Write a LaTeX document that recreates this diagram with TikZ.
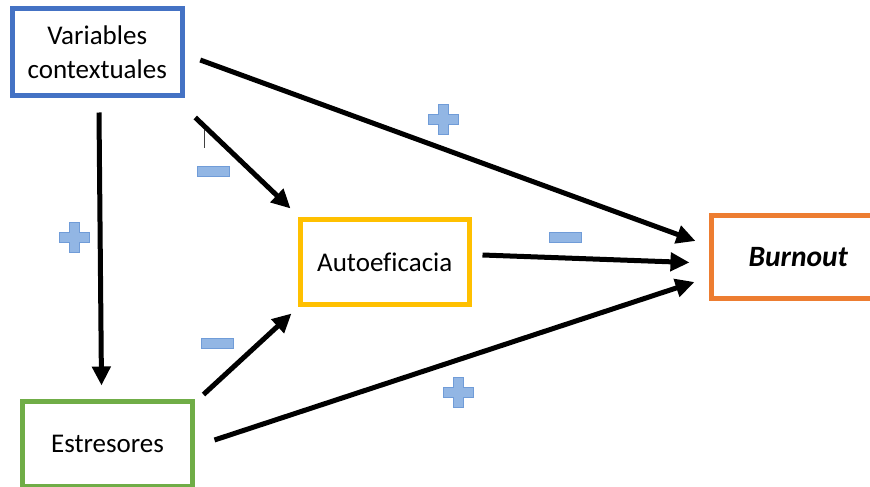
\documentclass[tikz,border=0pt]{standalone}
\usepackage{fontspec}
\setmainfont{Carlito}[Ligatures=NoCommon]
\usetikzlibrary{arrows.meta}

\definecolor{boxblue}{RGB}{68,114,196}
\definecolor{boxyellow}{RGB}{255,192,0}
\definecolor{boxorange}{RGB}{237,125,49}
\definecolor{boxgreen}{RGB}{112,173,71}
\definecolor{signfill}{RGB}{146,182,228}
\definecolor{signline}{RGB}{112,156,216}

\tikzset{
  varbox/.style={draw, line width=5pt, fill=white, minimum width=170pt,
    align=center, inner sep=0pt, font=\fontsize{27}{34}\selectfont},
  link/.style={line width=5pt, -{Triangle[length=19pt,width=18pt]}},
  signshape/.style={fill=signfill, draw=signline, line width=0.8pt},
  plussign/.pic={
    \path[signshape] (-5,-15) -- (5,-15) -- (5,-5) -- (15,-5) -- (15,5) -- (5,5)
      -- (5,15) -- (-5,15) -- (-5,5) -- (-15,5) -- (-15,-5) -- (-5,-5) -- cycle;
  },
  minussign/.pic={
    \path[signshape] (-16,-5) rectangle (16,5);
  }
}

\begin{document}
\begin{tikzpicture}[x=1pt, y=-1pt]
  \useasboundingbox (0,0) rectangle (870,487);
  \clip (0,0) rectangle (870,487);

  % boxes
  \node[varbox, draw=boxblue, minimum height=86pt] (vars) at (97.25,52)
    {Variables\\contextuales};
  \node[varbox, draw=boxyellow, minimum width=169.5pt, minimum height=85pt] (auto)
    at (384.75,262) {Autoeficacia};
  \node[varbox, draw=boxorange, minimum width=173.5pt, minimum height=82.5pt,
    font=\fontsize{29.5}{34}\selectfont\bfseries\itshape] (burn) at (798.25,256.75) {Burnout};
  \node[varbox, draw=boxgreen, minimum height=85pt] (estres) at (107.5,444)
    {Estresores};

  % connectors
  \draw[link] ([shift={(15.5,8)}]vars.east) -- ([shift={(-13.5,-15.75)}]burn.west);
  \draw[link] ([shift={(10.5,20)}]vars.south east) -- ([shift={(-7,-8.5)}]auto.north west);
  \draw[link] ([shift={(1.75,15)}]vars.south) -- ([shift={(-6,-13.5)}]estres.north);
  \draw[link] ([shift={(10.5,-7)}]auto.east) -- ([shift={(-19.5,5.75)}]burn.west);
  \draw[link] ([shift={(8.5,-4.5)}]estres.north east) -- ([shift={(-6,6.5)}]auto.south west);
  \draw[link] ([shift={(19.5,-4)}]estres.east) -- ([shift={(-14.5,25.25)}]burn.west);

  % signs of the effects
  \pic at (443,119) {plussign};
  \pic at (74.5,237) {plussign};
  \pic at (458.5,392) {plussign};
  \pic at (213.5,171) {minussign};
  \pic at (565,237) {minussign};
  \pic at (217,343) {minussign};

  % small stray tick
  \draw[line width=1pt, black!75] (204.5,130) -- (204.5,148);
\end{tikzpicture}
\end{document}
